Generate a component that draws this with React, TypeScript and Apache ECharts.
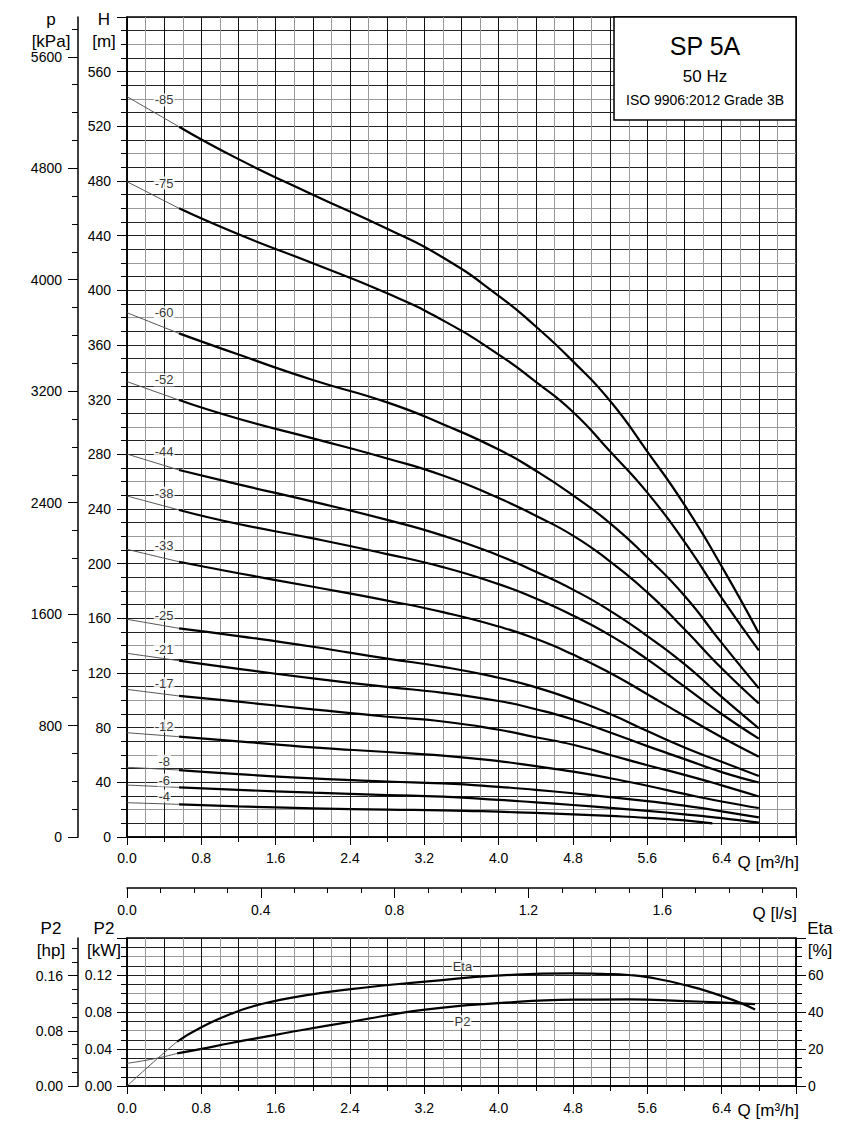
import React, { useEffect, useRef } from "react";
import * as echarts from "echarts";

// ---------- data ----------
const STAGES = ["-85", "-75", "-60", "-52", "-44", "-38", "-33", "-25", "-21", "-17", "-12", "-8", "-6", "-4"];

// flow points [m3/h] at which the heads were read
const Q_READ = [0, 0.56, 1.2, 2.0, 2.8, 3.4, 4.0, 4.4, 4.8, 5.2, 5.6, 6.0, 6.4, 6.8];

// heads [m] per curve, read at Q_READ
const H_85 = [541.7, 519.7, 496, 470, 445, 424, 396, 373.5, 348, 319, 282, 243, 198, 149];
const H_75 = [479.5, 460, 441, 419.8, 397.8, 378, 353, 333, 311, 282, 252, 216, 175, 136.6];
const H_60 = [383.6, 368.5, 353, 334.4, 318, 302, 283.5, 268, 250, 229.5, 204.5, 176.5, 142, 108.8];
const H_52 = [333.2, 319.7, 306, 291.7, 277, 264.5, 248, 235, 220.5, 201.5, 179, 152, 123.5, 97.8];
const H_44 = [280.2, 268.5, 258, 245.4, 232, 220.5, 206, 194, 181, 165.5, 147, 126.5, 102.5, 79.5];
const H_38 = [249.5, 239.3, 229, 218.5, 207, 197.5, 185, 174.5, 162, 147.5, 130, 110, 90, 72];
const H_33 = [210.5, 201.4, 193, 183.1, 173, 164.5, 154, 145, 133.5, 120, 104.5, 88.5, 73, 58.8];
const H_25 = [159.3, 152.7, 147, 139.2, 130.5, 124.5, 116.5, 109.5, 100.5, 90, 77.5, 65.5, 55, 44.6];
const H_21 = [134.4, 129, 123, 116.1, 109.8, 105.5, 99.5, 93.5, 86, 76.5, 66.5, 57, 47.5, 39.9];
const H_17 = [108, 103.2, 99, 93.4, 88, 84.5, 78.5, 73, 67.5, 60, 52.5, 45.5, 37.8, 29.6];
const H_12 = [76.3, 73.4, 70, 65.6, 62.2, 59.5, 55.5, 51.8, 47.8, 43, 37.5, 31.5, 26, 21.2];
const H_8 = [51, 49, 46, 42.9, 40.6, 39.2, 36.7, 34.5, 32, 29.2, 26.2, 23, 18.8, 14.4];
const H_6 = [38, 36.3, 34.5, 32.4, 30.7, 29.5, 27.2, 25.3, 23.4, 21.3, 19.1, 16.6, 13.8, 10.5];
const H_4 = [25.1, 23.9, 22.4, 21, 20, 19.5, 18.5, 17.6, 16.6, 15.4, 14, 12.2, 10.0];
// the -4 curve stops earlier
const Q_END_4 = 6.3;

const HEADS = [H_85, H_75, H_60, H_52, H_44, H_38, H_33, H_25, H_21, H_17, H_12, H_8, H_6, H_4];

// label positions of the stage numbers (Q, H)
const LABEL_Q = 0.4;
const LABEL_H = [539.3, 478.5, 383.6, 334.4, 282, 251.7, 213, 162.4, 137.3, 112.4, 81.2, 55.6, 41.7, 30];

// start of the recommended (thick) range
const THICK_FROM = 0.56;

// bottom chart: Eta [%] and P2 [kW]
const ETA = [[0, 0], [0.32, 14.5], [0.54, 24], [0.79, 31.5], [1.12, 39], [1.35, 43], [1.6, 46], [1.87, 48.6], [2.41, 52.4], [3.21, 56.4], [4.03, 59.8], [4.8, 60.9], [5.11, 60.6], [5.4, 60], [5.62, 58.7], [6.0, 54.6], [6.42, 48.3], [6.76, 41.4]];
const P2 = [[0, 0.0245], [0.32, 0.030], [0.54, 0.0353], [0.79, 0.0398], [1.12, 0.0465], [1.6, 0.0553], [1.87, 0.0603], [2.41, 0.0695], [3.21, 0.0825], [4.03, 0.0898], [4.82, 0.0933], [5.41, 0.0937], [6.0, 0.0918], [6.42, 0.0902], [6.76, 0.0886]];
const BOTTOM_THICK_FROM = 0.54;
const ETA_LABEL = [3.61, 64.5];
const P2_LABEL = [3.61, 0.0695];

// axis ticks
const P_MAJOR = [0, 800, 1600, 2400, 3200, 4000, 4800, 5600];
const P_MINOR = [200, 400, 600, 1000, 1200, 1400, 1800, 2000, 2200, 2600, 2800, 3000, 3400, 3600, 3800, 4200, 4400, 4600, 5000, 5200, 5400, 5800];
const HP_MAJOR = [0, 0.08, 0.16];
const HP_MINOR = [0.02, 0.04, 0.06, 0.10, 0.12, 0.14, 0.18, 0.20];

const FONT = "'Liberation Sans', Arial, Helvetica, sans-serif";

export default function App() {
  const ref = useRef<HTMLDivElement>(null);

  useEffect(() => {
    if (!ref.current) return;
    const chart = echarts.init(ref.current, null, { renderer: "svg" });

    const gridColors = ["#111", "#999"];
    const hGridColors = ["#222", "#222", "#999", "#222"];
    const axisLine = { show: true, onZero: false, lineStyle: { color: "#000", width: 1.5 } };
    const lbl = { color: "#000", fontSize: 14, fontFamily: FONT };
    const curveLabel = {
      show: true, position: "inside", formatter: "{b}", color: "#000", fontSize: 13, fontFamily: FONT,
      backgroundColor: "#fff", padding: [0, 1], textBorderWidth: 0, textBorderColor: "transparent",
    };
    const SMOOTH = 0.55;

    const series: any[] = [];
    HEADS.forEach((hs) => {
      const pts = hs.map((h, j) => [j === hs.length - 1 && hs.length < Q_READ.length ? Q_END_4 : Q_READ[j], h]);
      series.push({
        type: "line", xAxisIndex: 0, yAxisIndex: 0, symbol: "none", smooth: SMOOTH,
        data: pts.filter((p) => p[0] <= THICK_FROM),
        lineStyle: { color: "#555", width: 1 }, z: 3, silent: true,
      });
      series.push({
        type: "line", xAxisIndex: 0, yAxisIndex: 0, symbol: "none", smooth: SMOOTH,
        data: pts.filter((p) => p[0] >= THICK_FROM),
        lineStyle: { color: "#000", width: 2.2 }, z: 4, silent: true,
      });
    });
    series.push({
      type: "scatter", xAxisIndex: 0, yAxisIndex: 0, symbolSize: 0, z: 6, silent: true,
      itemStyle: { color: "#000" },
      data: STAGES.map((s, i) => ({ name: s, value: [LABEL_Q, LABEL_H[i]] })),
      label: curveLabel,
    });
    // bottom
    series.push({
      type: "line", xAxisIndex: 3, yAxisIndex: 5, symbol: "none", smooth: SMOOTH,
      data: ETA.filter((p) => p[0] <= BOTTOM_THICK_FROM), lineStyle: { color: "#555", width: 1 }, z: 3,
    });
    series.push({
      type: "line", xAxisIndex: 3, yAxisIndex: 5, symbol: "none", smooth: SMOOTH,
      data: ETA.filter((p) => p[0] >= BOTTOM_THICK_FROM), lineStyle: { color: "#000", width: 2.2 }, z: 4,
    });
    series.push({
      type: "line", xAxisIndex: 3, yAxisIndex: 4, symbol: "none", smooth: SMOOTH,
      data: P2.filter((p) => p[0] <= BOTTOM_THICK_FROM), lineStyle: { color: "#555", width: 1 }, z: 3,
    });
    series.push({
      type: "line", xAxisIndex: 3, yAxisIndex: 4, symbol: "none", smooth: SMOOTH,
      data: P2.filter((p) => p[0] >= BOTTOM_THICK_FROM), lineStyle: { color: "#000", width: 2.2 }, z: 4,
    });
    series.push({
      type: "scatter", xAxisIndex: 3, yAxisIndex: 5, symbolSize: 0, z: 6, itemStyle: { color: "#000" },
      data: [{ name: "Eta", value: ETA_LABEL }], label: curveLabel,
    });
    series.push({
      type: "scatter", xAxisIndex: 3, yAxisIndex: 4, symbolSize: 0, z: 6, itemStyle: { color: "#000" },
      data: [{ name: "P2", value: P2_LABEL }], label: curveLabel,
    });

    const hiddenAxis = {
      axisLine: { show: false, onZero: false }, axisTick: { show: false }, axisLabel: { show: false },
    };

    const text = (t: string, x: number, y: number, size: number, align = "center") => ({
      type: "text", x, y, z: 101,
      style: { text: t, fill: "#000", font: `${size}px ${FONT}`, textAlign: align, textVerticalAlign: "middle", verticalAlign: "middle" },
    });

    const option: any = {
      animation: false,
      backgroundColor: "#fff",
      grid: [
        { left: 127, top: 17, width: 669, height: 820, show: true, borderColor: "#000", borderWidth: 1.5, backgroundColor: "transparent" },
        { left: 127, top: 938, width: 669, height: 148, show: true, borderColor: "#000", borderWidth: 1.5, backgroundColor: "transparent" },
      ],
      xAxis: [
        { // 0 main Q
          type: "value", gridIndex: 0, min: 0, max: 7.2, interval: 0.8, position: "bottom",
          axisLine, axisTick: { show: true, length: 8, lineStyle: { color: "#000" } },
          minorTick: { show: true, splitNumber: 2, length: 5, lineStyle: { color: "#000" } },
          axisLabel: { ...lbl, margin: 14, showMaxLabel: false, formatter: (v: number) => v.toFixed(1) },
          splitLine: { show: false },
        },
        { // 1 l/s
          type: "value", gridIndex: 0, min: 0, max: 2.0, interval: 0.4, position: "bottom", offset: 51,
          axisLine, axisTick: { show: true, length: 10, lineStyle: { color: "#000" } },
          minorTick: { show: true, splitNumber: 4, length: 5, lineStyle: { color: "#000" } },
          axisLabel: { ...lbl, margin: 15, showMaxLabel: false, formatter: (v: number) => v.toFixed(1) },
          splitLine: { show: false },
        },
        { // 2 grid helper
          type: "value", gridIndex: 0, min: 0, max: 7.2, interval: 0.2, position: "bottom",
          ...hiddenAxis, splitLine: { show: true, lineStyle: { color: gridColors, width: 1 } },
        },
        { // 3 bottom Q
          type: "value", gridIndex: 1, min: 0, max: 7.2, interval: 0.8, position: "bottom",
          axisLine, axisTick: { show: true, length: 8, lineStyle: { color: "#000" } },
          minorTick: { show: true, splitNumber: 2, length: 5, lineStyle: { color: "#000" } },
          axisLabel: { ...lbl, margin: 15, showMaxLabel: false, formatter: (v: number) => v.toFixed(1) },
          splitLine: { show: false },
        },
        { // 4 bottom grid helper
          type: "value", gridIndex: 1, min: 0, max: 7.2, interval: 0.2, position: "bottom",
          ...hiddenAxis, splitLine: { show: true, lineStyle: { color: gridColors, width: 1 } },
        },
      ],
      yAxis: [
        { // 0 H
          type: "value", gridIndex: 0, min: 0, max: 600, interval: 40, position: "left",
          axisLine, axisTick: { show: true, length: 10, lineStyle: { color: "#000" } },
          minorTick: { show: true, splitNumber: 4, length: 6, lineStyle: { color: "#000" } },
          axisLabel: { ...lbl, margin: 16, showMaxLabel: false },
          splitLine: { show: false },
        },
        { // 1 p major
          type: "value", gridIndex: 0, min: 0, max: 5886, position: "left", offset: 49,
          axisLine, axisTick: { show: true, length: 10, customValues: P_MAJOR, lineStyle: { color: "#000" } },
          axisLabel: { ...lbl, margin: 16, customValues: P_MAJOR, formatter: (v: number) => String(v) },
          splitLine: { show: false },
        },
        { // 2 p minor
          type: "value", gridIndex: 0, min: 0, max: 5886, position: "left", offset: 49,
          axisLine: { show: false, onZero: false }, axisTick: { show: true, length: 6, customValues: P_MINOR, lineStyle: { color: "#000" } },
          axisLabel: { show: false }, splitLine: { show: false },
        },
        { // 3 main grid helper
          type: "value", gridIndex: 0, min: 0, max: 600, interval: 10, position: "left",
          ...hiddenAxis, splitLine: { show: true, lineStyle: { color: hGridColors, width: 1 } },
        },
        { // 4 kW
          type: "value", gridIndex: 1, min: 0, max: 0.16, interval: 0.04, position: "left",
          axisLine, axisTick: { show: true, length: 10, lineStyle: { color: "#000" } },
          minorTick: { show: true, splitNumber: 4, length: 6, lineStyle: { color: "#000" } },
          axisLabel: { ...lbl, margin: 15, showMaxLabel: false, formatter: (v: number) => v.toFixed(2) },
          splitLine: { show: false },
        },
        { // 5 Eta
          type: "value", gridIndex: 1, min: 0, max: 80, interval: 20, position: "right",
          axisLine, axisTick: { show: true, length: 10, lineStyle: { color: "#000" } },
          minorTick: { show: true, splitNumber: 4, length: 6, lineStyle: { color: "#000" } },
          axisLabel: { ...lbl, margin: 12, showMaxLabel: false },
          splitLine: { show: false },
        },
        { // 6 hp major
          type: "value", gridIndex: 1, min: 0, max: 0.16 / 0.7457, position: "left", offset: 49,
          axisLine, axisTick: { show: true, length: 10, customValues: HP_MAJOR, lineStyle: { color: "#000" } },
          axisLabel: { ...lbl, margin: 15, customValues: HP_MAJOR, formatter: (v: number) => v.toFixed(2) },
          splitLine: { show: false },
        },
        { // 7 hp minor
          type: "value", gridIndex: 1, min: 0, max: 0.16 / 0.7457, position: "left", offset: 49,
          axisLine: { show: false, onZero: false }, axisTick: { show: true, length: 6, customValues: HP_MINOR, lineStyle: { color: "#000" } },
          axisLabel: { show: false }, splitLine: { show: false },
        },
        { // 8 bottom grid helper
          type: "value", gridIndex: 1, min: 0, max: 0.16, interval: 0.01, position: "left",
          ...hiddenAxis, splitLine: { show: true, lineStyle: { color: hGridColors, width: 1 } },
        },
      ],
      series,
      graphic: [
        { type: "rect", z: 100, shape: { x: 614, y: 17, width: 182, height: 103 }, style: { fill: "#fff", stroke: "#000", lineWidth: 1.5 } },
        text("SP 5A", 705, 46, 25),
        text("50 Hz", 705, 76, 17),
        text("ISO 9906:2012 Grade 3B", 705, 100, 14),
        text("p", 51, 19, 17),
        text("[kPa]", 51, 41, 17),
        text("H", 104, 19, 17),
        text("[m]", 104, 41, 17),
        text("Q [m³/h]", 799, 862, 17, "right"),
        text("Q [l/s]", 797, 913, 17, "right"),
        text("P2", 51, 928, 17),
        text("[hp]", 51, 950, 17),
        text("P2", 104, 928, 17),
        text("[kW]", 104, 950, 17),
        text("Eta", 820, 928, 17),
        text("[%]", 820, 950, 17),
        text("Q [m³/h]", 799, 1110, 17, "right"),
      ],
    };

    chart.setOption(option);
    return () => chart.dispose();
  }, []);

  return <div ref={ref} style={{ position: "absolute", left: 0, top: 0, width: 854, height: 1132 }} />;
}
